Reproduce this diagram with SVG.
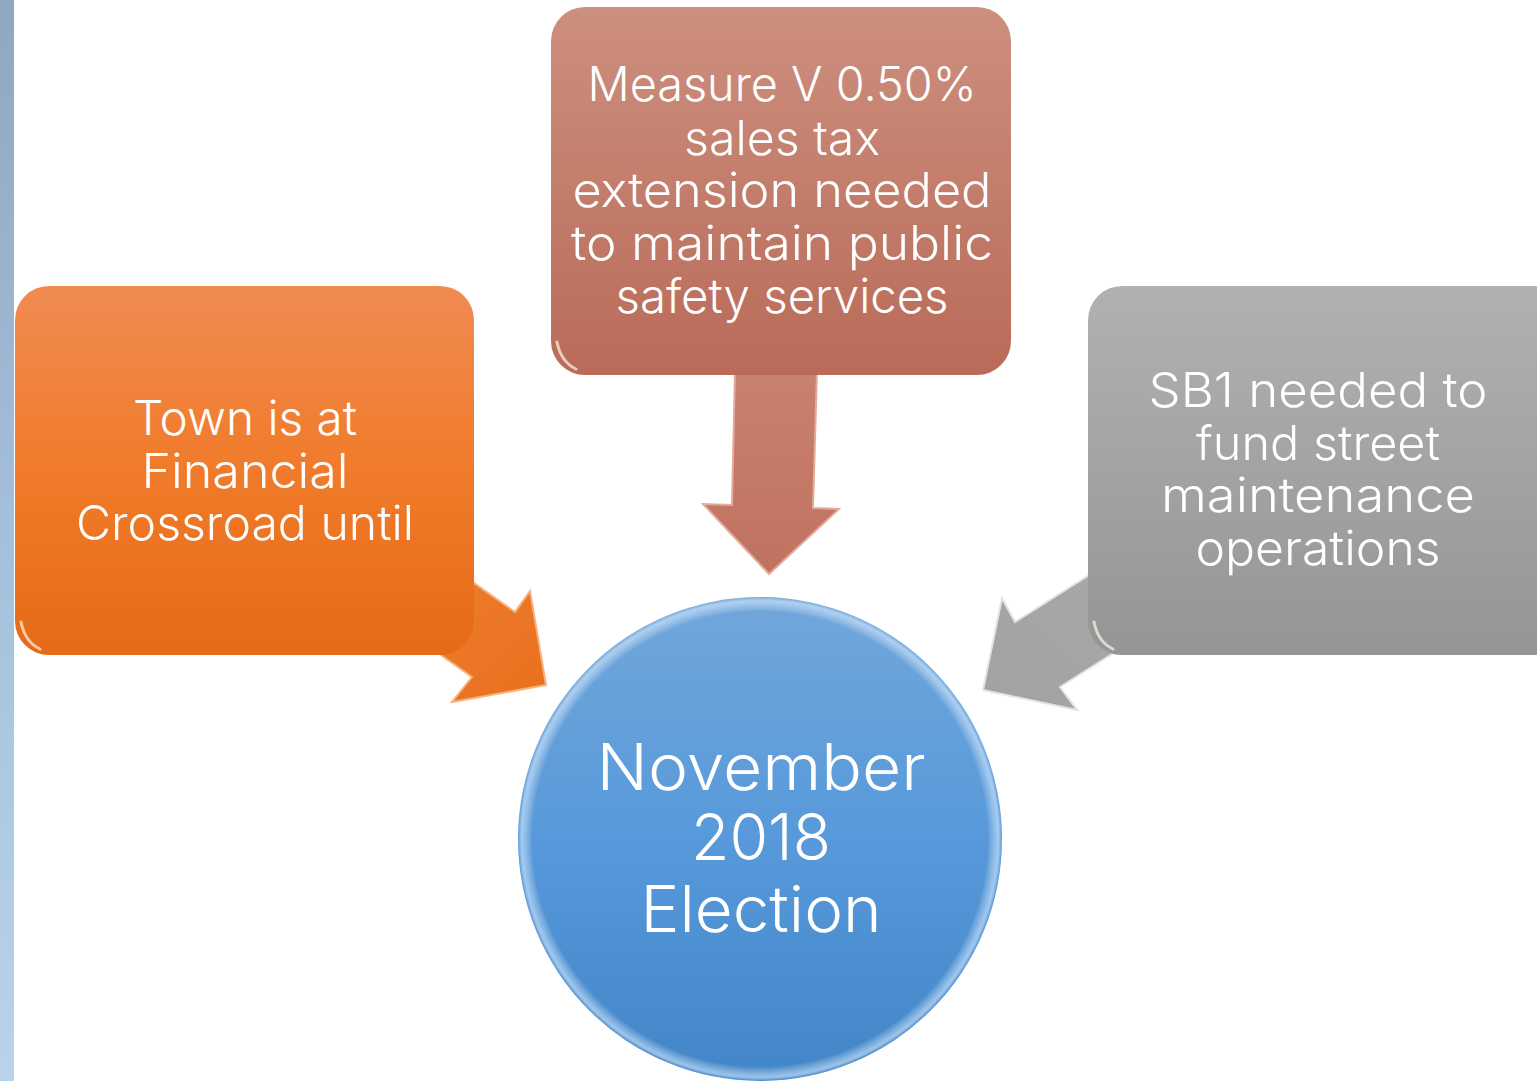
<svg xmlns="http://www.w3.org/2000/svg" width="1537" height="1081" viewBox="0 0 1537 1081">
  <defs>
    <linearGradient id="gStrip" x1="0" y1="0" x2="0" y2="1">
      <stop offset="0" stop-color="#8ea7c3"/>
      <stop offset="0.5" stop-color="#a5c0dc"/>
      <stop offset="1" stop-color="#b8d3ea"/>
    </linearGradient>
    <linearGradient id="gOrange" x1="0" y1="0" x2="0" y2="1">
      <stop offset="0" stop-color="#f08b52"/>
      <stop offset="0.5" stop-color="#f07b2a"/>
      <stop offset="1" stop-color="#e66a17"/>
    </linearGradient>
    <linearGradient id="gBrown" x1="0" y1="0" x2="0" y2="1">
      <stop offset="0" stop-color="#cd8f7f"/>
      <stop offset="1" stop-color="#b96b58"/>
    </linearGradient>
    <linearGradient id="gGray" x1="0" y1="0" x2="0" y2="1">
      <stop offset="0" stop-color="#b1b1b1"/>
      <stop offset="1" stop-color="#959595"/>
    </linearGradient>
    <linearGradient id="gBlue" x1="0" y1="0" x2="0" y2="1">
      <stop offset="0" stop-color="#72a7db"/>
      <stop offset="0.5" stop-color="#5799da"/>
      <stop offset="1" stop-color="#4286c8"/>
    </linearGradient>
    <linearGradient id="gArrowO" x1="0" y1="0" x2="1" y2="1">
      <stop offset="0" stop-color="#f08030"/>
      <stop offset="1" stop-color="#e8701e"/>
    </linearGradient>
    <linearGradient id="gArrowB" x1="0" y1="0" x2="0" y2="1">
      <stop offset="0" stop-color="#c98170"/>
      <stop offset="1" stop-color="#c0725f"/>
    </linearGradient>
    <linearGradient id="gArrowG" x1="1" y1="0" x2="0" y2="1">
      <stop offset="0" stop-color="#a9a9a9"/>
      <stop offset="1" stop-color="#a2a2a2"/>
    </linearGradient>
    <linearGradient id="gShine" x1="0" y1="0" x2="1" y2="0">
      <stop offset="0" stop-color="#fff" stop-opacity="0"/>
      <stop offset="0.15" stop-color="#fff" stop-opacity="0.55"/>
      <stop offset="0.85" stop-color="#fff" stop-opacity="0.55"/>
      <stop offset="1" stop-color="#fff" stop-opacity="0"/>
    </linearGradient>
    <radialGradient id="gRim" cx="0.5" cy="0.5" r="0.5">
      <stop offset="0.94" stop-color="#fff" stop-opacity="0"/>
      <stop offset="0.985" stop-color="#d8ecff" stop-opacity="0.6"/>
      <stop offset="1" stop-color="#fff" stop-opacity="0"/>
    </radialGradient>
  </defs>
  <style>
    .lbl { font-family: "Inter", "Lato", "DejaVu Sans", sans-serif; fill: #ffffff; text-anchor: middle; font-weight: 300; }
    .box { font-size: 48px; }
    .big { font-size: 64px; }
    .shine { fill: none; stroke: url(#gShine); stroke-width: 3; stroke-linecap: round; }
    .corner { fill: none; stroke: #fff2e6; stroke-opacity: 0.7; stroke-width: 3; stroke-linecap: round; }
    .bevel { stroke-width: 2; stroke-linejoin: miter; }
  </style>

  <rect id="side-strip" x="0" y="0" width="14" height="1081" fill="url(#gStrip)"/>

  <g id="connectors">
    <!-- orange block arrow into the circle -->
    <polygon class="bevel" points="433,554 515,612 530,591 546,685 452,702 472,677 390,619" fill="url(#gArrowO)" stroke="#f6b27a"/>
    <!-- brown block arrow straight down -->
    <polygon class="bevel" points="735,370 817,370 813,508 839,509 769,574 703,504 732,505" fill="url(#gArrowB)" stroke="#e2ab9c"/>
    <!-- gray block arrow into the circle -->
    <polygon class="bevel" points="1116,558 1015,622 1002,598 983,690 1077,710 1060,687 1161,623" fill="url(#gArrowG)" stroke="#e4e4e4"/>
  </g>

  <g id="node-town">
    <rect x="15" y="286" width="459" height="369" rx="34" fill="url(#gOrange)"/>
    <path class="shine" d="M45 292 H444"/>
    <path class="corner" d="M21 622 Q25 642 40 649"/>
    <text class="lbl box" x="245" y="435" textLength="224" lengthAdjust="spacingAndGlyphs">Town is at</text>
    <text class="lbl box" x="245" y="488" textLength="207" lengthAdjust="spacingAndGlyphs">Financial</text>
    <text class="lbl box" x="245" y="540" textLength="338" lengthAdjust="spacingAndGlyphs">Crossroad until</text>
  </g>

  <g id="node-measure">
    <rect x="551" y="7" width="460" height="368" rx="34" fill="url(#gBrown)"/>
    <path class="shine" d="M581 13 H981"/>
    <path class="corner" d="M557 342 Q561 362 576 369"/>
    <text class="lbl box" x="782" y="101" textLength="389" lengthAdjust="spacingAndGlyphs">Measure V 0.50%</text>
    <text class="lbl box" x="782" y="155" textLength="196" lengthAdjust="spacingAndGlyphs">sales tax</text>
    <text class="lbl box" x="782" y="207" textLength="419" lengthAdjust="spacingAndGlyphs">extension needed</text>
    <text class="lbl box" x="782" y="260" textLength="422" lengthAdjust="spacingAndGlyphs">to maintain public</text>
    <text class="lbl box" x="782" y="313" textLength="333" lengthAdjust="spacingAndGlyphs">safety services</text>
  </g>

  <g id="node-sb1">
    <rect x="1088" y="286" width="480" height="369" rx="34" fill="url(#gGray)"/>
    <path class="shine" d="M1118 292 H1537"/>
    <path class="corner" d="M1094 622 Q1098 642 1113 649"/>
    <text class="lbl box" x="1318" y="407" textLength="339" lengthAdjust="spacingAndGlyphs">SB1 needed to</text>
    <text class="lbl box" x="1318" y="460" textLength="244" lengthAdjust="spacingAndGlyphs">fund street</text>
    <text class="lbl box" x="1318" y="512" textLength="314" lengthAdjust="spacingAndGlyphs">maintenance</text>
    <text class="lbl box" x="1318" y="565" textLength="245" lengthAdjust="spacingAndGlyphs">operations</text>
  </g>

  <g id="node-election">
    <circle cx="760" cy="839" r="242" fill="url(#gBlue)"/>
    <circle cx="760" cy="839" r="242" fill="url(#gRim)"/>
    <text class="lbl big" x="761" y="790" textLength="329" lengthAdjust="spacingAndGlyphs">November</text>
    <text class="lbl big" x="761" y="860" textLength="140" lengthAdjust="spacingAndGlyphs">2018</text>
    <text class="lbl big" x="761" y="932" textLength="241" lengthAdjust="spacingAndGlyphs">Election</text>
  </g>
</svg>
